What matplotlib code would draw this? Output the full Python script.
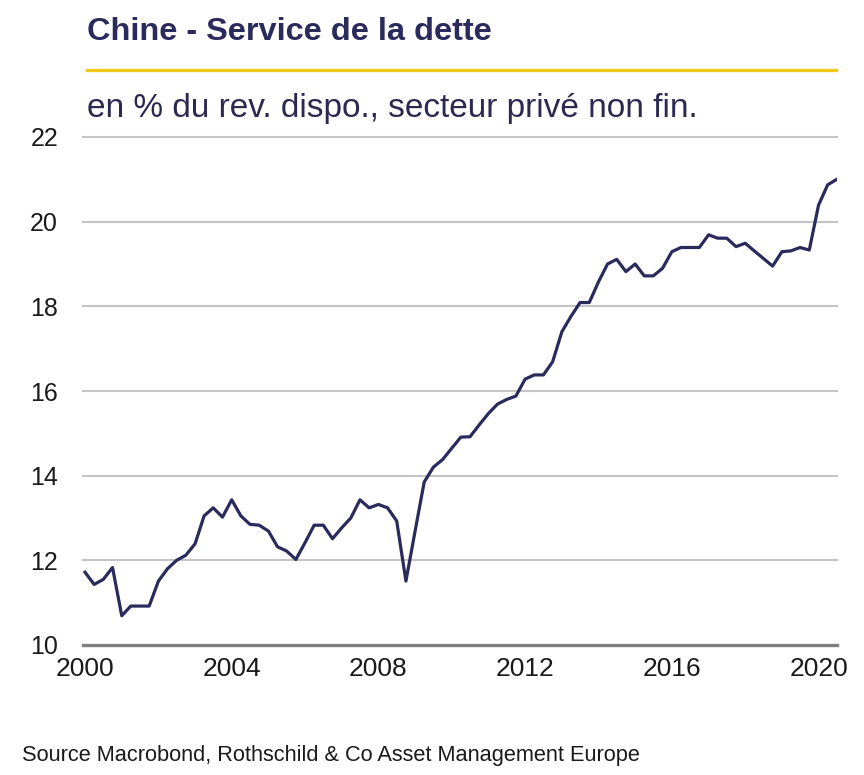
import matplotlib
matplotlib.use("Agg")
import matplotlib.pyplot as plt
import pandas as pd

plt.rcParams['font.family'] = ['Liberation Sans', 'DejaVu Sans']

# Quarterly data, 2000Q1 .. 2020Q3
dates = pd.date_range('2000-01-01', periods=83, freq='QS')
values = [
    11.72, 11.43, 11.55, 11.83, 10.69, 10.92, 10.92, 10.92,
    11.51, 11.80, 12.00, 12.12, 12.39, 13.05, 13.24, 13.02,
    13.43, 13.05, 12.85, 12.83, 12.69, 12.32, 12.22, 12.02,
    12.42, 12.83, 12.83, 12.51, 12.77, 13.00, 13.43, 13.24,
    13.32, 13.24, 12.93, 11.51, 12.70, 13.85, 14.20, 14.38,
    14.65, 14.91, 14.92, 15.20, 15.47, 15.69, 15.80, 15.88,
    16.28, 16.38, 16.38, 16.69, 17.40, 17.76, 18.09, 18.09,
    18.58, 19.00, 19.11, 18.82, 19.00, 18.72, 18.72, 18.90,
    19.29, 19.39, 19.39, 19.39, 19.69, 19.61, 19.61, 19.41,
    19.49, 19.31, 19.13, 18.95, 19.29, 19.31, 19.39, 19.33,
    20.39, 20.87, 21.00,
]
y_ticks = [10, 12, 14, 16, 18, 20, 22]
x_tick_years = [2000, 2004, 2008, 2012, 2016, 2020]

title = "Chine - Service de la dette"
subtitle = "en % du rev. dispo., secteur privé non fin."
source = "Source Macrobond, Rothschild & Co Asset Management Europe"

W, H = 864, 775
fig = plt.figure(figsize=(W / 100, H / 100), dpi=100)
fig.patch.set_facecolor('white')

left, right = 83 / W, 837 / W
bottom, top = 1 - 645 / H, 1 - 137 / H
ax = fig.add_axes([left, bottom, right - left, top - bottom])

navy = '#2b2a5c'
ax.plot(dates, values, color=navy, lw=2.3, solid_joinstyle='round', zorder=3)

ax.set_ylim(10, 22)
ax.set_xlim(pd.Timestamp('1999-12-12'), pd.Timestamp('2020-07-03'))

for yv in y_ticks:
    if yv == 10:
        ax.axhline(yv, color='#7f7f7f', lw=2.4, zorder=2, clip_on=False)
    else:
        ax.axhline(yv, color='#c4c4c4', lw=1.5, zorder=1, clip_on=False)

ax.set_yticks(y_ticks)
ax.set_yticklabels([str(v) for v in y_ticks])
ax.set_xticks([pd.Timestamp(f'{y}-01-01') for y in x_tick_years])
ax.set_xticklabels([str(y) for y in x_tick_years])
ax.tick_params(axis='y', length=0, pad=18, labelsize=18, labelcolor='#1a1a1a')
ax.tick_params(axis='x', length=0, pad=9, labelsize=19, labelcolor='#1a1a1a')
for s in ax.spines.values():
    s.set_visible(False)
ax.set_facecolor('white')

# Title, rule, subtitle
fig.text(87 / W, 1 - 40 / H, title, fontsize=23.4, fontweight='bold',
         color=navy, ha='left', va='baseline')
fig.add_artist(plt.Line2D([87 / W, 836 / W], [1 - 70 / H, 1 - 70 / H],
                          color='#f2c81a', lw=2.4, transform=fig.transFigure))
fig.text(87 / W, 1 - 117 / H, subtitle, fontsize=24, color='#2b2950',
         ha='left', va='baseline')
fig.text(22 / W, 1 - 761 / H, source, fontsize=15.7, color='#1a1a1a',
         ha='left', va='baseline')

fig.savefig('out.png', dpi=100, facecolor='white')
